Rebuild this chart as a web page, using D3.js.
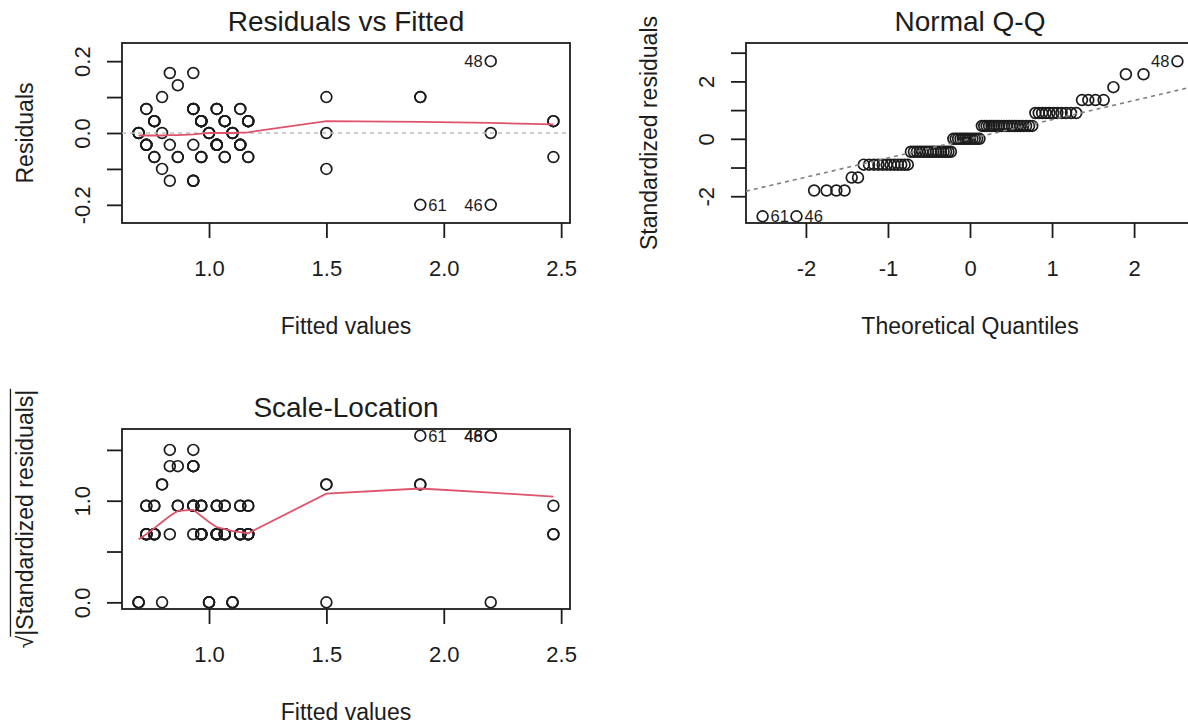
<!DOCTYPE html>
<html>
<head>
<meta charset="utf-8">
<script src="https://cdn.jsdelivr.net/npm/d3@7"></script>
<style>
  html, body { margin: 0; padding: 0; background: #ffffff; }
  svg { display: block; font-family: "Liberation Sans", Arial, Helvetica, sans-serif; }
</style>
</head>
<body>
<svg id="chart" width="1188" height="724"></svg>
<script>
// ---------------- data: lm diagnostics, one entry per observation ----------------
const fittedValues = [
  0.700, 0.700, 0.700,
  0.733, 0.733, 0.733,
  0.733, 0.733, 0.733,
  0.767, 0.767, 0.767,
  0.767, 0.767, 0.767,
  0.800, 0.800, 0.800,
  0.833, 0.833, 0.833,
  0.867, 0.867, 0.867,
  0.933, 0.933, 0.933,
  0.933, 0.933, 0.933,
  0.933, 0.933, 0.933,
  0.967, 0.967, 0.967,
  0.967, 0.967, 0.967,
  0.967, 0.967, 0.967,
  1.000, 1.000, 1.000,
  1.033, 1.033, 1.033,
  1.033, 1.033, 1.033,
  1.033, 1.033, 1.033,
  1.067, 1.067, 1.067,
  1.067, 1.067, 1.067,
  1.100, 1.100, 1.100,
  1.133, 1.133, 1.133,
  1.133, 1.133, 1.133,
  1.167, 1.167, 1.167,
  1.167, 1.167, 1.167,
  1.500, 1.500, 1.500,
  1.900, 1.900, 1.900,
  2.200, 2.200, 2.200,
  2.467, 2.467, 2.467
];

const residualValues = [
  0.000, 0.000, 0.000,
  0.067, -0.033, -0.033,
  0.067, -0.033, -0.033,
  0.033, 0.033, -0.067,
  0.033, 0.033, -0.067,
  0.100, 0.000, -0.100,
  0.167, -0.033, -0.133,
  0.133, -0.067, -0.067,
  0.167, -0.033, -0.133,
  0.067, 0.067, -0.133,
  0.067, 0.067, -0.133,
  0.033, 0.033, -0.067,
  0.033, 0.033, -0.067,
  0.033, 0.033, -0.067,
  0.000, 0.000, 0.000,
  0.067, -0.033, -0.033,
  0.067, -0.033, -0.033,
  0.067, -0.033, -0.033,
  0.033, 0.033, -0.067,
  0.033, 0.033, -0.067,
  0.000, 0.000, 0.000,
  0.067, -0.033, -0.033,
  0.067, -0.033, -0.033,
  0.033, 0.033, -0.067,
  0.033, 0.033, -0.067,
  0.100, 0.000, -0.100,
  0.100, 0.100, -0.200,
  0.200, 0.000, -0.200,
  0.033, 0.033, -0.067
];

const stdResiduals = [
  0.00, 0.00, 0.00,
  0.90, -0.45, -0.45,
  0.90, -0.45, -0.45,
  0.45, 0.45, -0.90,
  0.45, 0.45, -0.90,
  1.35, 0.00, -1.35,
  2.25, -0.45, -1.80,
  1.80, -0.90, -0.90,
  2.25, -0.45, -1.80,
  0.90, 0.90, -1.80,
  0.90, 0.90, -1.80,
  0.45, 0.45, -0.90,
  0.45, 0.45, -0.90,
  0.45, 0.45, -0.90,
  0.00, 0.00, 0.00,
  0.90, -0.45, -0.45,
  0.90, -0.45, -0.45,
  0.90, -0.45, -0.45,
  0.45, 0.45, -0.90,
  0.45, 0.45, -0.90,
  0.00, 0.00, 0.00,
  0.90, -0.45, -0.45,
  0.90, -0.45, -0.45,
  0.45, 0.45, -0.90,
  0.45, 0.45, -0.90,
  1.35, 0.00, -1.35,
  1.35, 1.35, -2.70,
  2.70, 0.00, -2.70,
  0.45, 0.45, -0.90
];

// sqrt(|standardized residual|) for the Scale-Location panel
const scaleLocationValues = [
  0.00, 0.00, 0.00,
  0.95, 0.67, 0.67,
  0.95, 0.67, 0.67,
  0.67, 0.67, 0.95,
  0.67, 0.67, 0.95,
  1.16, 0.00, 1.16,
  1.50, 0.67, 1.34,
  1.34, 0.95, 0.95,
  1.50, 0.67, 1.34,
  0.95, 0.95, 1.34,
  0.95, 0.95, 1.34,
  0.67, 0.67, 0.95,
  0.67, 0.67, 0.95,
  0.67, 0.67, 0.95,
  0.00, 0.00, 0.00,
  0.95, 0.67, 0.67,
  0.95, 0.67, 0.67,
  0.95, 0.67, 0.67,
  0.67, 0.67, 0.95,
  0.67, 0.67, 0.95,
  0.00, 0.00, 0.00,
  0.95, 0.67, 0.67,
  0.95, 0.67, 0.67,
  0.67, 0.67, 0.95,
  0.67, 0.67, 0.95,
  1.16, 0.00, 1.16,
  1.16, 1.16, 1.64,
  1.64, 0.00, 1.64,
  0.67, 0.67, 0.95
];

// theoretical normal quantiles for the sorted standardized residuals
const theoreticalQuantiles = [
  -2.528, -2.115, -1.900, -1.748, -1.629, -1.529, -1.442, -1.365, -1.295, -1.231,
  -1.171, -1.116, -1.064, -1.015, -0.967, -0.922, -0.879, -0.838, -0.797, -0.758,
  -0.720, -0.683, -0.647, -0.612, -0.578, -0.544, -0.511, -0.478, -0.447, -0.415,
  -0.384, -0.353, -0.322, -0.292, -0.263, -0.233, -0.203, -0.174, -0.145, -0.115,
  -0.087, -0.058, -0.029, 0.000, 0.029, 0.058, 0.087, 0.115, 0.145, 0.174,
  0.203, 0.233, 0.263, 0.292, 0.322, 0.353, 0.384, 0.415, 0.447, 0.478,
  0.511, 0.544, 0.578, 0.612, 0.647, 0.683, 0.720, 0.758, 0.797, 0.838,
  0.879, 0.922, 0.967, 1.015, 1.064, 1.116, 1.171, 1.231, 1.295, 1.365,
  1.442, 1.529, 1.629, 1.748, 1.900, 2.115, 2.528
];

// observations flagged with their case numbers
const flaggedIndex = [81, 80, 83];
const flaggedIds = ["48", "61", "46"];

// smoothing curves
const smoothX = [0.700, 0.733, 0.767, 0.800, 0.833, 0.867, 0.933, 0.967, 1.000,
                 1.033, 1.067, 1.100, 1.133, 1.167, 1.500, 1.900, 2.200, 2.467];
const residSmoothY = [-0.007, -0.007, -0.007, -0.007, -0.006, -0.006, -0.004, -0.002, 0.000,
                      0.000, 0.000, 0.000, 0.001, 0.002, 0.033, 0.031, 0.028, 0.024];
const scaleSmoothY = [0.62, 0.67, 0.73, 0.79, 0.85, 0.90, 0.91, 0.85, 0.79,
                      0.74, 0.72, 0.70, 0.69, 0.68, 1.07, 1.12, 1.08, 1.04];

// Q-Q reference line through the quartile pairs
const qqLineX = [-0.674, 0.674];
const qqLineY = [-0.45, 0.45];

// tick values and labels
const fittedTicks = [1.0, 1.5, 2.0, 2.5];
const fittedTickLabels = ["1.0", "1.5", "2.0", "2.5"];
const residTicks = [-0.2, -0.1, 0.0, 0.1, 0.2];
const residTickLabels = ["-0.2", "", "0.0", "", "0.2"];
const qqXTicks = [-2, -1, 0, 1, 2];
const qqXTickLabels = ["-2", "-1", "0", "1", "2"];
const qqYTicks = [-2, -1, 0, 1, 2, 3];
const qqYTickLabels = ["-2", "", "0", "", "2", ""];
const scaleTicks = [0.0, 0.5, 1.0, 1.5];
const scaleTickLabels = ["0.0", "", "1.0", ""];

// ---------------- drawing ----------------
const INK = "#1c1c1c";
const RED = "#DF536B";
const TICK_FONT = 22;
const LAB_FONT = 23;
const TITLE_FONT = 28;
const ID_FONT = 16.5;
const PT_R = 5.4;

const svg = d3.select("#chart");
const defs = svg.append("defs");

// base-graphics style range padding
function pad(lo, hi, f) {
  const d = (hi - lo) * f;
  return [lo - d, hi + d];
}

let clipCount = 0;
function makePanel(cfg) {
  const g = svg.append("g");
  const x = d3.scaleLinear().domain(cfg.xDomain).range([cfg.left, cfg.left + cfg.width]);
  const y = d3.scaleLinear().domain(cfg.yDomain).range([cfg.top + cfg.height, cfg.top]);

  const clipId = "clip" + (clipCount++);
  defs.append("clipPath").attr("id", clipId).append("rect")
    .attr("x", cfg.left).attr("y", cfg.top).attr("width", cfg.width).attr("height", cfg.height);

  // x axis
  const gx = g.append("g")
    .attr("transform", `translate(0,${cfg.top + cfg.height})`)
    .call(d3.axisBottom(x).tickValues(cfg.xTicks).tickFormat((d, i) => cfg.xLabels[i])
      .tickSize(15).tickSizeOuter(0));
  gx.attr("font-family", null).attr("font-size", TICK_FONT);
  gx.select(".domain").remove();
  gx.selectAll(".tick line").attr("stroke", INK).attr("stroke-width", 1.8);
  gx.selectAll(".tick text").attr("fill", INK).attr("y", 53).attr("dy", null);

  // y axis, labels parallel to the axis
  const gy = g.append("g")
    .attr("transform", `translate(${cfg.left},0)`)
    .call(d3.axisLeft(y).tickValues(cfg.yTicks).tickFormat((d, i) => cfg.yLabels[i])
      .tickSize(15).tickSizeOuter(0));
  gy.attr("font-family", null).attr("font-size", TICK_FONT);
  gy.select(".domain").remove();
  gy.selectAll(".tick line").attr("stroke", INK).attr("stroke-width", 1.8);
  gy.selectAll(".tick text").attr("fill", INK)
    .attr("x", 0).attr("dy", null)
    .attr("text-anchor", "middle")
    .attr("transform", "translate(-32,0) rotate(-90)");

  // frame
  g.append("rect")
    .attr("x", cfg.left).attr("y", cfg.top)
    .attr("width", cfg.width).attr("height", cfg.height)
    .attr("fill", "none").attr("stroke", INK).attr("stroke-width", 1.8);

  // title
  g.append("text")
    .attr("x", cfg.left + cfg.width / 2).attr("y", cfg.top - 12)
    .attr("text-anchor", "middle").attr("font-size", TITLE_FONT).attr("fill", INK)
    .text(cfg.title);

  // x axis title
  g.append("text")
    .attr("x", cfg.left + cfg.width / 2).attr("y", cfg.top + cfg.height + 111)
    .attr("text-anchor", "middle").attr("font-size", LAB_FONT).attr("fill", INK)
    .text(cfg.xTitle);

  const plot = g.append("g");
  const clipped = g.append("g").attr("clip-path", `url(#${clipId})`);
  return { g, x, y, plot, clipped };
}

function drawPoints(p, xs, ys) {
  p.plot.append("g").selectAll("circle")
    .data(d3.range(xs.length))
    .join("circle")
    .attr("cx", i => p.x(xs[i]))
    .attr("cy", i => p.y(ys[i]))
    .attr("r", PT_R)
    .attr("fill", "none")
    .attr("stroke", INK)
    .attr("stroke-width", 1.7);
}

function drawIds(p, xs, ys, ids) {
  const ext = d3.extent(xs);
  const mid = (ext[0] + ext[1]) / 2;
  p.plot.append("g").selectAll("text")
    .data(d3.range(xs.length))
    .join("text")
    .attr("x", i => p.x(xs[i]) + (xs[i] > mid ? -8 : 8))
    .attr("y", i => p.y(ys[i]))
    .attr("dy", "0.36em")
    .attr("text-anchor", i => xs[i] > mid ? "end" : "start")
    .attr("font-size", ID_FONT)
    .attr("fill", INK)
    .text(i => ids[i]);
}

function yTitle(p, cx, cy, label) {
  p.g.append("text")
    .attr("transform", `translate(${cx},${cy}) rotate(-90)`)
    .attr("text-anchor", "middle").attr("font-size", LAB_FONT).attr("fill", INK)
    .text(label);
}

// ---- Residuals vs Fitted ----
{
  const xr = pad(d3.min(fittedValues), d3.max(fittedValues), 0.04);
  const yr0 = pad(d3.min(residualValues), d3.max(residualValues), 0.08);
  const yr = pad(yr0[0], yr0[1], 0.04);
  const p = makePanel({
    left: 122, top: 43, width: 448, height: 180,
    xDomain: xr, yDomain: yr,
    xTicks: fittedTicks, xLabels: fittedTickLabels,
    yTicks: residTicks, yLabels: residTickLabels,
    title: "Residuals vs Fitted", xTitle: "Fitted values"
  });
  yTitle(p, 33, 133, "Residuals");

  p.clipped.append("line")
    .attr("x1", p.x(xr[0])).attr("x2", p.x(xr[1]))
    .attr("y1", p.y(0)).attr("y2", p.y(0))
    .attr("stroke", "#bebebe").attr("stroke-width", 1.6).attr("stroke-dasharray", "4,4");

  drawPoints(p, fittedValues, residualValues);

  p.clipped.append("path")
    .datum(d3.range(smoothX.length))
    .attr("d", d3.line().x(i => p.x(smoothX[i])).y(i => p.y(residSmoothY[i])))
    .attr("fill", "none").attr("stroke", RED).attr("stroke-width", 1.8);

  drawIds(p, flaggedIndex.map(i => fittedValues[i]), flaggedIndex.map(i => residualValues[i]), flaggedIds);
}

// ---- Normal Q-Q ----
{
  const order = d3.range(stdResiduals.length).sort((a, b) => stdResiduals[a] - stdResiduals[b]);
  const sample = order.map(i => stdResiduals[i]);
  const xr = pad(d3.min(theoreticalQuantiles), d3.max(theoreticalQuantiles), 0.04);
  const lo = d3.min(sample), hi = d3.max(sample);
  const yr = pad(lo, hi + (hi - lo) * 0.075, 0.04);
  const p = makePanel({
    left: 746, top: 43, width: 448, height: 180,
    xDomain: xr, yDomain: yr,
    xTicks: qqXTicks, xLabels: qqXTickLabels,
    yTicks: qqYTicks, yLabels: qqYTickLabels,
    title: "Normal Q-Q", xTitle: "Theoretical Quantiles"
  });
  yTitle(p, 657, 133, "Standardized residuals");

  const slope = (qqLineY[1] - qqLineY[0]) / (qqLineX[1] - qqLineX[0]);
  const icpt = qqLineY[0] - slope * qqLineX[0];
  p.clipped.append("line")
    .attr("x1", p.x(xr[0])).attr("x2", p.x(xr[1]))
    .attr("y1", p.y(icpt + slope * xr[0])).attr("y2", p.y(icpt + slope * xr[1]))
    .attr("stroke", "#7f7f7f").attr("stroke-width", 1.6).attr("stroke-dasharray", "4,4");

  drawPoints(p, theoreticalQuantiles, sample);

  const pos = flaggedIndex.map(i => order.indexOf(i));
  drawIds(p, pos.map(k => theoreticalQuantiles[k]), pos.map(k => sample[k]), flaggedIds);
}

// ---- Scale-Location ----
{
  const xr = pad(d3.min(fittedValues), d3.max(fittedValues), 0.04);
  const yr = pad(0, d3.max(scaleLocationValues), 0.04);
  const p = makePanel({
    left: 122, top: 429, width: 448, height: 180,
    xDomain: xr, yDomain: yr,
    xTicks: fittedTicks, xLabels: fittedTickLabels,
    yTicks: scaleTicks, yLabels: scaleTickLabels,
    title: "Scale-Location", xTitle: "Fitted values"
  });

  // y title: sqrt(|Standardized residuals|) with a radical bar
  const lg = p.g.append("g").attr("transform", "translate(33,519) rotate(-90)");
  const t = lg.append("text").attr("text-anchor", "middle").attr("font-size", LAB_FONT).attr("fill", INK);
  t.append("tspan").text("\u221A");
  t.append("tspan").text("|Standardized residuals|");
  const total = t.node().getComputedTextLength();
  const rootW = t.node().getSubStringLength(0, 1);
  lg.append("line")
    .attr("x1", -total / 2 + rootW - 1).attr("x2", total / 2 + 1)
    .attr("y1", -LAB_FONT * 0.98).attr("y2", -LAB_FONT * 0.98)
    .attr("stroke", INK).attr("stroke-width", 1.3);

  drawPoints(p, fittedValues, scaleLocationValues);

  p.clipped.append("path")
    .datum(d3.range(smoothX.length))
    .attr("d", d3.line().x(i => p.x(smoothX[i])).y(i => p.y(scaleSmoothY[i])))
    .attr("fill", "none").attr("stroke", RED).attr("stroke-width", 1.8);

  drawIds(p, flaggedIndex.map(i => fittedValues[i]), flaggedIndex.map(i => scaleLocationValues[i]), flaggedIds);
}
</script>
</body>
</html>
